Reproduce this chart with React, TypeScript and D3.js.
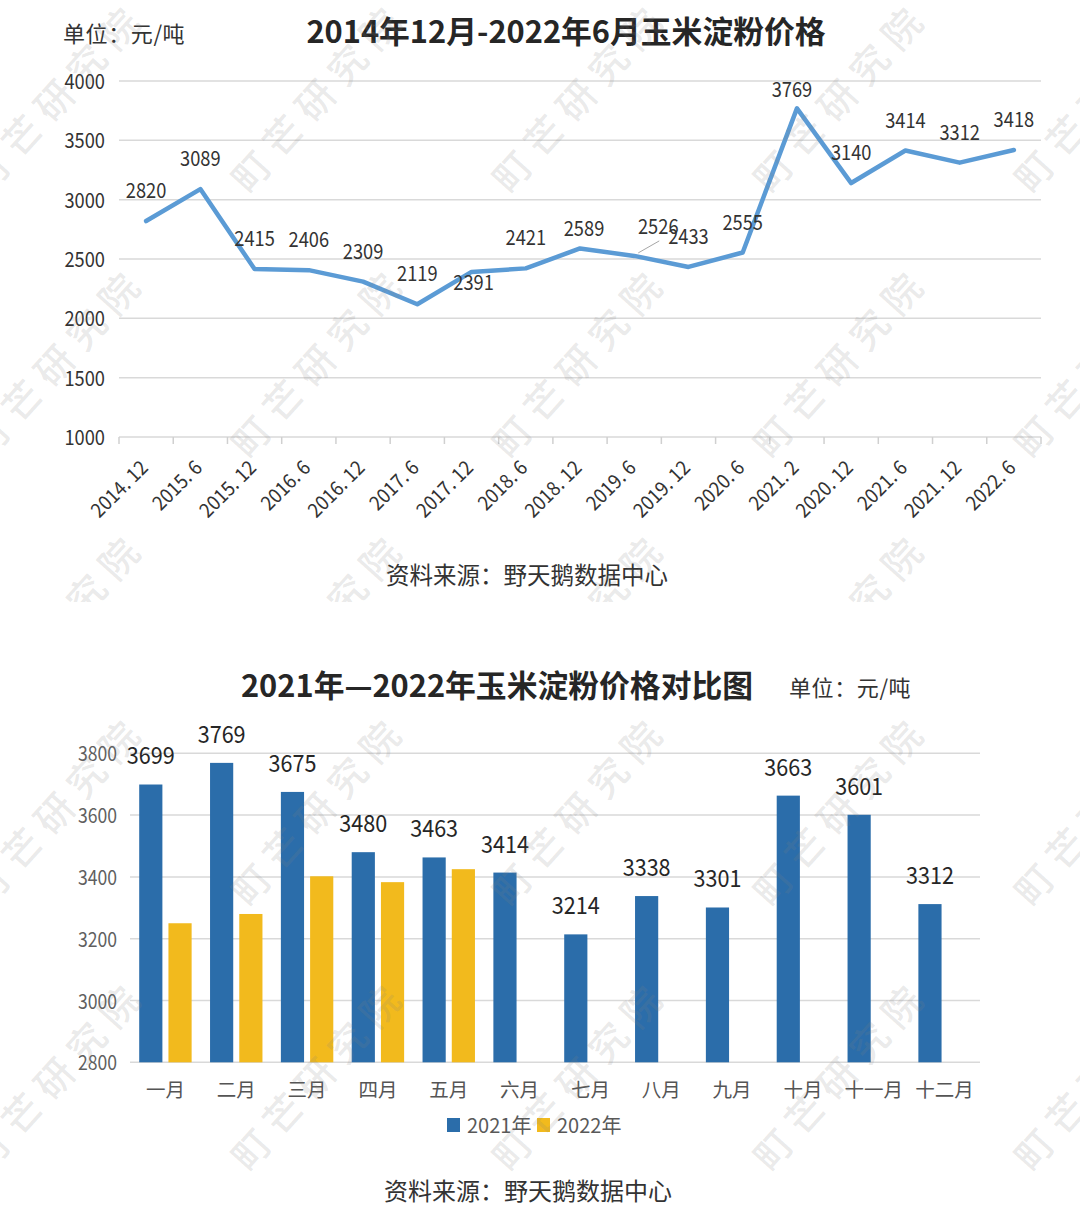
import React from 'react';
import * as d3 from 'd3';

// ---- Chart 1: long-run price line ----
const periods = ['2014. 12', '2015. 6', '2015. 12', '2016. 6', '2016. 12', '2017. 6', '2017. 12', '2018. 6', '2018. 12', '2019. 6', '2019. 12', '2020. 6', '2021. 2', '2020. 12', '2021. 6', '2021. 12', '2022. 6'];
const prices = [2820, 3089, 2415, 2406, 2309, 2119, 2391, 2421, 2589, 2526, 2433, 2555, 3769, 3140, 3414, 3312, 3418];
const priceTicks = [1000, 1500, 2000, 2500, 3000, 3500, 4000];

// ---- Chart 2: monthly comparison bars ----
const months = ['一月', '二月', '三月', '四月', '五月', '六月', '七月', '八月', '九月', '十月', '十一月', '十二月'];
const price2021 = [3699, 3769, 3675, 3480, 3463, 3414, 3214, 3338, 3301, 3663, 3601, 3312];
const price2022 = [3250, 3280, 3402, 3383, 3425];
const compareTicks = [2800, 3000, 3200, 3400, 3600, 3800];
const seriesNames = ['2021年', '2022年'];
const seriesColors = ['#2b6daa', '#f2ba1d'];

const watermarkText = '町芒研究院';

const CJK_FONT = '"Noto Sans CJK SC", sans-serif';

// per-point label nudges for the line chart (dx, dy from the point)
const labelNudge: Record<number, [number, number]> = {
  6: [2, 9],
  8: [4, -22],
  9: [24, -31],
  12: [-5, -20],
};

// number text drawn with a slightly condensed horizontal scale
function NumText(props: {
  x: number;
  y: number;
  sx: number;
  size: number;
  anchor?: 'start' | 'middle' | 'end';
  fill: string;
  rotate?: number;
  baseline?: string;
  children: React.ReactNode;
}) {
  const { x, y, sx, size, anchor = 'middle', fill, rotate = 0, baseline = 'central', children } = props;
  return (
    <text
      transform={`translate(${x},${y}) rotate(${rotate}) scale(${sx},1)`}
      textAnchor={anchor}
      dominantBaseline={baseline}
      fontFamily={CJK_FONT}
      fontSize={size}
      fill={fill}
    >
      {children}
    </text>
  );
}

export default function App() {
  const W = 1080;
  const H = 1212;

  // line chart scales
  const x1 = d3.scaleBand<string>().domain(periods).range([119, 1041]);
  const y1 = d3.scaleLinear().domain([1000, 4000]).range([437, 81]);
  const pts = prices.map((v, i) => [x1(periods[i])! + x1.bandwidth() / 2, y1(v)] as [number, number]);
  const linePath = d3.line()(pts) || '';

  // bar chart scales
  const x2 = d3.scaleBand<string>().domain(months).range([130, 980]).paddingInner(0.26).paddingOuter(0.13);
  const xs = d3.scaleBand<string>().domain(seriesNames).range([0, x2.bandwidth()]).paddingInner(0.207);
  const y2 = d3.scaleLinear().domain([2800, 3800]).range([1062.3, 753.3]);
  const seriesData = [price2021, price2022];

  const wmCols = d3.range(5).map((k) => 56 + 261 * k);
  const wmTopRows = [95, 360, 625];
  const wmBotRows = [808, 1073];

  const watermark = (rows: number[], key: string) =>
    rows.flatMap((cy) =>
      wmCols.map((cx) => (
        <text
          key={`${key}-${cx}-${cy}`}
          transform={`translate(${cx},${cy}) rotate(-48)`}
          textAnchor="middle"
          dominantBaseline="central"
          fontFamily={CJK_FONT}
          fontWeight={500}
          fontSize={38}
          letterSpacing={10}
          fill="#828282"
          fillOpacity={0.18}
        >
          {watermarkText}
        </text>
      ))
    );

  return (
    <svg
      width={W}
      height={H}
      viewBox={`0 0 ${W} ${H}`}
      style={{ position: 'absolute', left: 0, top: 0, background: '#fff' }}
    >
      <defs>
        <clipPath id="clipTop">
          <rect x={0} y={0} width={W} height={602} />
        </clipPath>
        <clipPath id="clipBot">
          <rect x={0} y={650} width={W} height={H - 650} />
        </clipPath>
      </defs>
      <rect x={0} y={0} width={W} height={H} fill="#fff" />

      {/* ===== Line chart ===== */}
      <text x={63} y={32} fontFamily={CJK_FONT} fontSize={22} letterSpacing={0.6} fill="#333" dominantBaseline="central">单位：元/吨</text>
      <text x={566} y={29} textAnchor="middle" dominantBaseline="central" fontFamily={CJK_FONT} fontWeight={700} fontSize={30.8} fill="#262626">
        2014年12月-2022年6月玉米淀粉价格
      </text>

      {priceTicks.map((t) => (
        <g key={`g1-${t}`}>
          <line x1={119} x2={1041} y1={y1(t)} y2={y1(t)} stroke="#d9d9d9" strokeWidth={1.5} />
          <NumText x={105} y={y1(t) - 1} sx={0.87} size={21} anchor="end" fill="#333">
            {t}
          </NumText>
        </g>
      ))}
      {/* category tick marks */}
      {[...periods.map((p) => x1(p)!), 1041].map((tx, i) => (
        <line key={`tk-${i}`} x1={tx} x2={tx} y1={437} y2={444} stroke="#d0d0d0" strokeWidth={1.5} />
      ))}
      {periods.map((p) => {
        const cx = x1(p)! + x1.bandwidth() / 2;
        return (
          <NumText key={`xl-${p}`} x={cx + 3} y={469} rotate={-45} sx={0.92} size={20} anchor="end" baseline="auto" fill="#333">
            {p}
          </NumText>
        );
      })}

      <path d={linePath} fill="none" stroke="#5b9bd5" strokeWidth={4.5} strokeLinejoin="round" strokeLinecap="round" />

      {prices.map((v, i) => {
        const [px, py] = pts[i];
        const [dx, dy] = labelNudge[i] || [0, -32];
        return (
          <g key={`pl-${i}`}>
            {i === 9 && (
              <line x1={px + 4} y1={py - 3} x2={px + dx + 1} y2={py + dy + 16} stroke="#a6a6a6" strokeWidth={1} />
            )}
            <NumText x={px + dx} y={py + dy} sx={0.87} size={21} fill="#333">
              {v}
            </NumText>
          </g>
        );
      })}

      <text x={527} y={574} textAnchor="middle" dominantBaseline="central" fontFamily={CJK_FONT} fontSize={23.5} fill="#333">
        资料来源：野天鹅数据中心
      </text>

      {/* ===== Bar chart ===== */}
      <text x={497} y={683} textAnchor="middle" dominantBaseline="central" fontFamily={CJK_FONT} fontWeight={700} fontSize={30.8} fill="#262626">
        2021年—2022年玉米淀粉价格对比图
      </text>
      <text x={789} y={686} fontFamily={CJK_FONT} fontSize={22} letterSpacing={0.6} fill="#333" dominantBaseline="central">单位：元/吨</text>

      {compareTicks.map((t) => (
        <g key={`g2-${t}`}>
          <line x1={130} x2={980} y1={y2(t)} y2={y2(t)} stroke="#d9d9d9" strokeWidth={1.5} />
          <NumText x={117} y={y2(t) - 1} sx={0.88} size={20} anchor="end" fill="#5f5f5f">
            {t}
          </NumText>
        </g>
      ))}

      {seriesData.map((vals, si) =>
        vals.map((v, mi) => {
          const bx = x2(months[mi])! + xs(seriesNames[si])!;
          return (
            <rect
              key={`b-${si}-${mi}`}
              x={bx}
              y={y2(v)}
              width={xs.bandwidth()}
              height={y2(2800) - y2(v)}
              fill={seriesColors[si]}
            />
          );
        })
      )}

      {price2021.map((v, mi) => {
        const cx = x2(months[mi])! + xs(seriesNames[0])! + xs.bandwidth() / 2;
        return (
          <NumText key={`bl-${mi}`} x={cx} y={y2(v) - 30} sx={0.9} size={24} fill="#262626">
            {v}
          </NumText>
        );
      })}

      {months.map((m) => (
        <text
          key={`ml-${m}`}
          x={x2(m)! + x2.bandwidth() / 2}
          y={1088}
          textAnchor="middle"
          dominantBaseline="central"
          fontFamily={CJK_FONT}
          fontSize={19.5}
          fill="#555"
        >
          {m}
        </text>
      ))}

      {/* legend */}
      {seriesNames.map((s, i) => {
        const lx = 447 + i * 90;
        return (
          <g key={`lg-${s}`}>
            <rect x={lx} y={1118} width={13} height={14} fill={seriesColors[i]} />
            <text x={lx + 20} y={1124} dominantBaseline="central" fontFamily={CJK_FONT} fontSize={20} fill="#595959">
              {s}
            </text>
          </g>
        );
      })}

      <text x={528} y={1189} textAnchor="middle" dominantBaseline="central" fontFamily={CJK_FONT} fontSize={24} fill="#333">
        资料来源：野天鹅数据中心
      </text>

      {/* watermark overlay */}
      <g clipPath="url(#clipTop)" pointerEvents="none">{watermark(wmTopRows, 't')}</g>
      <g clipPath="url(#clipBot)" pointerEvents="none">{watermark(wmBotRows, 'b')}</g>
    </svg>
  );
}
